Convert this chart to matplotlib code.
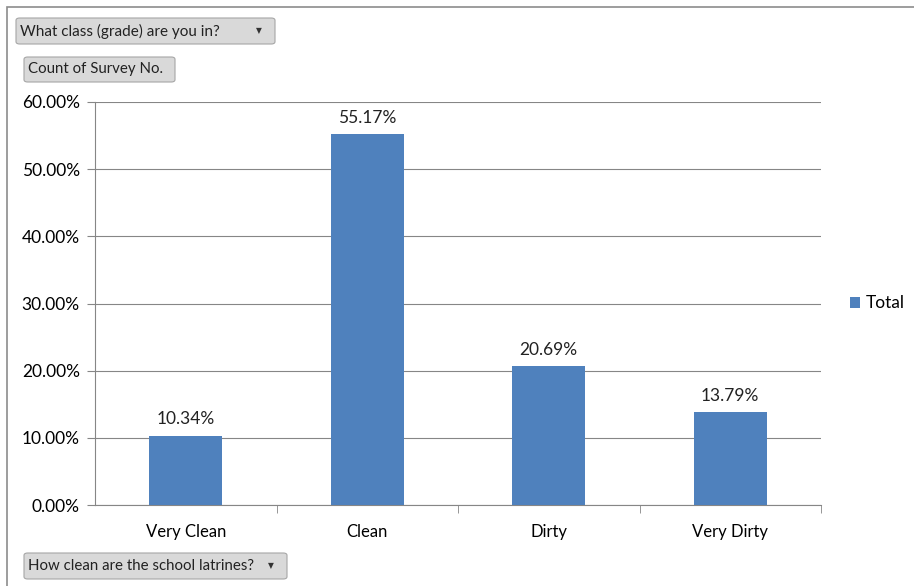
import matplotlib.pyplot as plt
from matplotlib.patches import FancyBboxPatch, Rectangle
from matplotlib.ticker import FuncFormatter

categories = ["Very Clean", "Clean", "Dirty", "Very Dirty"]
values = [10.34, 55.17, 20.69, 13.79]
y_ticks = [0, 10, 20, 30, 40, 50, 60]

BAR = "#4F81BD"
GRID = "#868686"

plt.rcParams["font.family"] = ["Lato", "DejaVu Sans"]

W, H = 914, 586
fig = plt.figure(figsize=(W / 100, H / 100), dpi=100)

# axes placement in pixels
x0, x1 = 95, 821
y_top, y_bot = 102, 505
ax = fig.add_axes([x0 / W, 1 - y_bot / H, (x1 - x0) / W, (y_bot - y_top) / H])

xs = range(len(categories))
bars = ax.bar(xs, values, width=0.4, color=BAR, label="Total", zorder=3)
for b, v in zip(bars, values):
    ax.annotate(f"{v:.2f}%", (b.get_x() + b.get_width() / 2, v),
                xytext=(0, 6), textcoords="offset points",
                ha="center", va="bottom", fontsize=12.5, color="#222222")

ax.set_xlim(-0.5, len(categories) - 0.5)
ax.set_ylim(0, 60)
ax.set_yticks(y_ticks)
ax.yaxis.set_major_formatter(FuncFormatter(lambda v, p: f"{v:.2f}%"))
ax.set_xticks(list(xs))
ax.set_xticklabels(categories)
ax.set_xticks([i + 0.5 for i in range(len(categories))], minor=True)
ax.tick_params(axis="x", which="major", length=0, pad=14, labelsize=12)
ax.tick_params(axis="x", which="minor", length=6, color=GRID, direction="out")
ax.tick_params(axis="y", length=6, color=GRID, pad=5, labelsize=12.5)
ax.grid(axis="y", color=GRID, linewidth=0.8, zorder=0)

for s in ["top", "right"]:
    ax.spines[s].set_visible(False)
for s in ["left", "bottom"]:
    ax.spines[s].set_color(GRID)
    ax.spines[s].set_linewidth(0.8)

ax.legend(loc="center left", bbox_to_anchor=(1.03, 0.5), frameon=False,
          fontsize=12.5, handlelength=0.6, handleheight=0.6,
          handletextpad=0.3, borderaxespad=0)

# outer chart frame
fig.patches.append(Rectangle((7 / W, -0.1), 1.2, 1 - 7 / H + 0.1,
                             transform=fig.transFigure, fill=False,
                             edgecolor="#8c8c8c", linewidth=1.2))


def button(x, y, w, h, text, size, arrow=None):
    p = FancyBboxPatch((x / W, 1 - (y + h) / H), w / W, h / H,
                       boxstyle="round,pad=0,rounding_size=0.004",
                       transform=fig.transFigure, facecolor="#d9d9d9",
                       edgecolor="#a6a6a6", linewidth=0.8)
    fig.patches.append(p)
    fig.text((x + 4) / W, 1 - (y + h / 2) / H, text, ha="left", va="center",
             fontsize=size, color="#222222")
    if arrow:
        fig.text((x + w - 16) / W, 1 - (y + h / 2) / H, arrow, ha="center",
                 va="center", fontsize=5.5, color="#333333",
                 family=["DejaVu Sans"])


button(16, 18, 259, 26, "What class (grade) are you in?", 11, "\u25bc")
button(24, 57, 151, 25, "Count of Survey No.", 10.8)
button(24, 553, 263, 26, "How clean are the school latrines?", 10.8, "\u25bc")

fig.savefig("out.png", dpi=100)
